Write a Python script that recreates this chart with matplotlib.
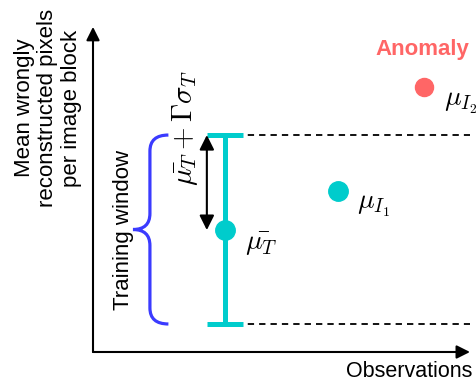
import numpy as np
import matplotlib
matplotlib.use("Agg")
import matplotlib.pyplot as plt
from matplotlib.path import Path
from matplotlib.patches import PathPatch

plt.rcParams['font.family'] = ['Liberation Sans', 'DejaVu Sans']
plt.rcParams['mathtext.fontset'] = 'cm'

# Values (arbitrary units, axis runs 0..10)
train_x = 3.5
train_mean = 3.81
train_upper = 6.78
train_lower = 0.875
point_x = [6.5, 8.78]
point_y = [5.03, 8.28]
point_labels = [r'$\mu_{I_1}$', r'$\mu_{I_2}$']

cyan = '#00CCCC'
red = '#FF6666'
blue = '#3B3BFF'

fig = plt.figure(figsize=(4.77, 3.87), dpi=100)
ax = fig.add_axes([0, 0, 1, 1])
ax.set_xlim(-2.467, 10.186)
ax.set_ylim(-1.094, 11.0)
ax.axis('off')

# axes with arrow heads
arrow = dict(arrowstyle='-|>', lw=1.5, color='black', mutation_scale=20,
             shrinkA=0, shrinkB=0)
ax.annotate('', xy=(0, 10.16), xytext=(0, 0), arrowprops=arrow)
ax.annotate('', xy=(10.0, 0), xytext=(0, 0), arrowprops=arrow)

ax.text(-1.2, 7.62, 'Mean wrongly\nreconstructed pixels\nper image block',
        rotation=90, ha='center', va='center', fontsize=16, linespacing=1.15)
ax.text(6.7, -0.62, 'Observations', ha='left', va='center', fontsize=15.5)

# dashed band limits
for yv in [train_upper, train_lower]:
    ax.plot([train_x, 10.0], [yv, yv], ls=(0, (3.5, 2.8)), color='black',
            lw=1.3, zorder=1)

# training window error bar
ax.errorbar([train_x], [train_mean],
            yerr=[[train_mean - train_lower], [train_upper - train_mean]],
            fmt='o', color=cyan, ms=14, elinewidth=3.6, capsize=13,
            capthick=3.6, zorder=3)
ax.text(4.03, 3.38, r'$\bar{\mu_T}$', fontsize=20, ha='left', va='center')

# double arrow mean -> upper limit
ax.annotate('', xy=(3.02, train_upper), xytext=(3.02, train_mean),
            arrowprops=dict(arrowstyle='<|-|>', lw=1.5, color='black',
                            mutation_scale=22, shrinkA=0, shrinkB=0))
ax.text(2.44, 7.0, r'$\bar{\mu_T} + \Gamma\sigma_T$', rotation=90,
        fontsize=21, ha='center', va='center')

# curly brace for the training window
xe, xv, xt = 2.0, 1.51, 1.06
ym = (train_upper + train_lower) / 2
r = 0.5
verts = [(xe, train_upper), (xv, train_upper), (xv, train_upper - r),
         (xv, ym + r), (xv, ym), (xt, ym), (xv, ym), (xv, ym - r),
         (xv, train_lower + r), (xv, train_lower), (xe, train_lower)]
codes = [Path.MOVETO, Path.CURVE3, Path.CURVE3, Path.LINETO, Path.CURVE3,
         Path.CURVE3, Path.CURVE3, Path.CURVE3, Path.LINETO, Path.CURVE3,
         Path.CURVE3]
ax.add_patch(PathPatch(Path(verts, codes), fc='none', ec=blue, lw=2.3,
                       capstyle='butt'))
ax.text(0.8, ym, 'Training window', rotation=90, ha='center', va='center',
        fontsize=16)

# test observations
ax.plot(point_x[0], point_y[0], 'o', color=cyan, ms=14, zorder=3)
ax.plot(point_x[1], point_y[1], 'o', color=red, ms=13, zorder=3)
ax.text(7.0, 4.55, point_labels[0], fontsize=20, ha='left', va='center')
ax.text(9.3, 7.78, point_labels[1], fontsize=20, ha='left', va='center')
ax.text(8.74, 9.44, 'Anomaly', color=red, fontweight='bold', fontsize=16,
        ha='center', va='center')

fig.savefig('out.png', dpi=100)
